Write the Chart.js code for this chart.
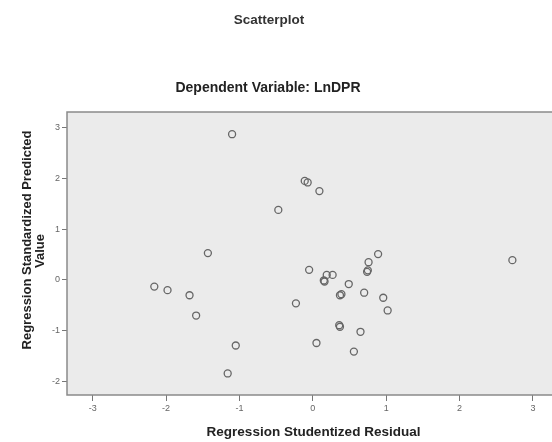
<!DOCTYPE html>
<html>
<head>
<meta charset="utf-8">
<script src="https://cdn.jsdelivr.net/npm/chart.js@4"></script>
<style>
  body { margin: 0; background: #fff; }
  #wrap { width: 552px; height: 442px; }
</style>
</head>
<body>
<div id="wrap"><canvas id="scatter" width="552" height="442"></canvas></div>
<script>
// 横軸: Regression Studentized Residual
const residual = [
  -1.10, -0.11, -0.07, 0.09, -0.47, -1.43, -2.16, -1.98, -1.68, -1.59,
  -1.05, -1.16, -0.05, -0.23, 0.05, 0.19, 0.27, 0.16, 0.15, 0.49,
  0.39, 0.37, 0.70, 0.89, 0.76, 0.74, 0.75, 0.96, 1.02, 0.36,
  0.37, 0.65, 0.56, 2.72
];
// 縦軸: Regression Standardized Predicted Value
const predicted = [
  2.87, 1.95, 1.92, 1.75, 1.38, 0.53, -0.13, -0.20, -0.30, -0.70,
  -1.29, -1.84, 0.20, -0.46, -1.24, 0.10, 0.10, -0.03, -0.01, -0.08,
  -0.28, -0.30, -0.25, 0.51, 0.35, 0.16, 0.19, -0.35, -0.60, -0.89,
  -0.92, -1.02, -1.41, 0.39
];

const xTicks = [-3, -2, -1, 0, 1, 2, 3];
const yTicks = [-2, -1, 0, 1, 2, 3];

const chartTitle = 'Scatterplot';
const chartSubtitle = 'Dependent Variable: LnDPR';
const xTitle = 'Regression Studentized Residual';
const yTitle = ['Regression Standardized Predicted', 'Value'];

const points = residual.map((x, i) => ({ x: x, y: predicted[i] }));

const font = '"Liberation Sans", Arial, sans-serif';

// プロット領域の背景と枠線
const plotFrame = {
  id: 'plotFrame',
  beforeDatasetsDraw(chart) {
    const { ctx, chartArea: a } = chart;
    ctx.save();
    ctx.fillStyle = '#ebebeb';
    ctx.fillRect(a.left, a.top, a.right - a.left, a.bottom - a.top);
    ctx.strokeStyle = '#8a8a8a';
    ctx.lineWidth = 1.5;
    ctx.beginPath();
    ctx.moveTo(a.right + 2, a.top);
    ctx.lineTo(a.left, a.top);
    ctx.lineTo(a.left, a.bottom);
    ctx.lineTo(a.right + 2, a.bottom);
    ctx.stroke();
    ctx.restore();
  }
};

// タイトル類（SPSS風の位置に合わせて手で配置）
const titles = {
  id: 'titles',
  afterDraw(chart) {
    const ctx = chart.ctx;
    ctx.save();
    ctx.textAlign = 'center';
    ctx.textBaseline = 'middle';
    ctx.fillStyle = '#333';
    ctx.font = 'bold 13.5px ' + font;
    ctx.fillText(chartTitle, 269, 20);
    ctx.fillStyle = '#222';
    ctx.font = 'bold 14px ' + font;
    ctx.fillText(chartSubtitle, 268, 88);
    ctx.font = 'bold 13.5px ' + font;
    ctx.fillText(xTitle, 313.5, 432);
    ctx.font = 'bold 13px ' + font;
    ctx.rotate(-Math.PI / 2);
    ctx.fillText(yTitle[0], -240, 27);
    ctx.fillText(yTitle[1], -251, 40.5);
    ctx.restore();
  }
};

new Chart(document.getElementById('scatter'), {
  type: 'scatter',
  data: {
    datasets: [{
      data: points,
      pointRadius: 3.5,
      pointHoverRadius: 3.5,
      pointBorderWidth: 1.3,
      borderColor: '#666',
      backgroundColor: 'rgba(0,0,0,0)'
    }]
  },
  options: {
    responsive: false,
    animation: false,
    layout: { autoPadding: false, padding: { top: 112, left: 0, right: 0, bottom: 0 } },
    plugins: {
      legend: { display: false },
      tooltip: { enabled: false }
    },
    scales: {
      x: {
        type: 'linear',
        min: -3.35,
        max: 3.26,
        afterFit(scale) {
          scale.height = 47;
          scale.paddingLeft = 0;
          scale.paddingRight = 0;
        },
        afterBuildTicks(scale) { scale.ticks = xTicks.map(v => ({ value: v })); },
        border: { display: false },
        grid: { drawOnChartArea: false, drawTicks: true, tickLength: 6, color: '#777' },
        ticks: { color: '#666', font: { family: font, size: 9 }, padding: 2 }
      },
      y: {
        type: 'linear',
        min: -2.264,
        max: 3.307,
        afterFit(scale) {
          scale.width = 67;
          scale.paddingTop = 0;
          scale.paddingBottom = 0;
        },
        afterBuildTicks(scale) { scale.ticks = yTicks.map(v => ({ value: v })); },
        border: { display: false },
        grid: { drawOnChartArea: false, drawTicks: true, tickLength: 5, color: '#777' },
        ticks: { color: '#666', font: { family: font, size: 9 }, padding: 2 }
      }
    }
  },
  plugins: [plotFrame, titles]
});
</script>
</body>
</html>
